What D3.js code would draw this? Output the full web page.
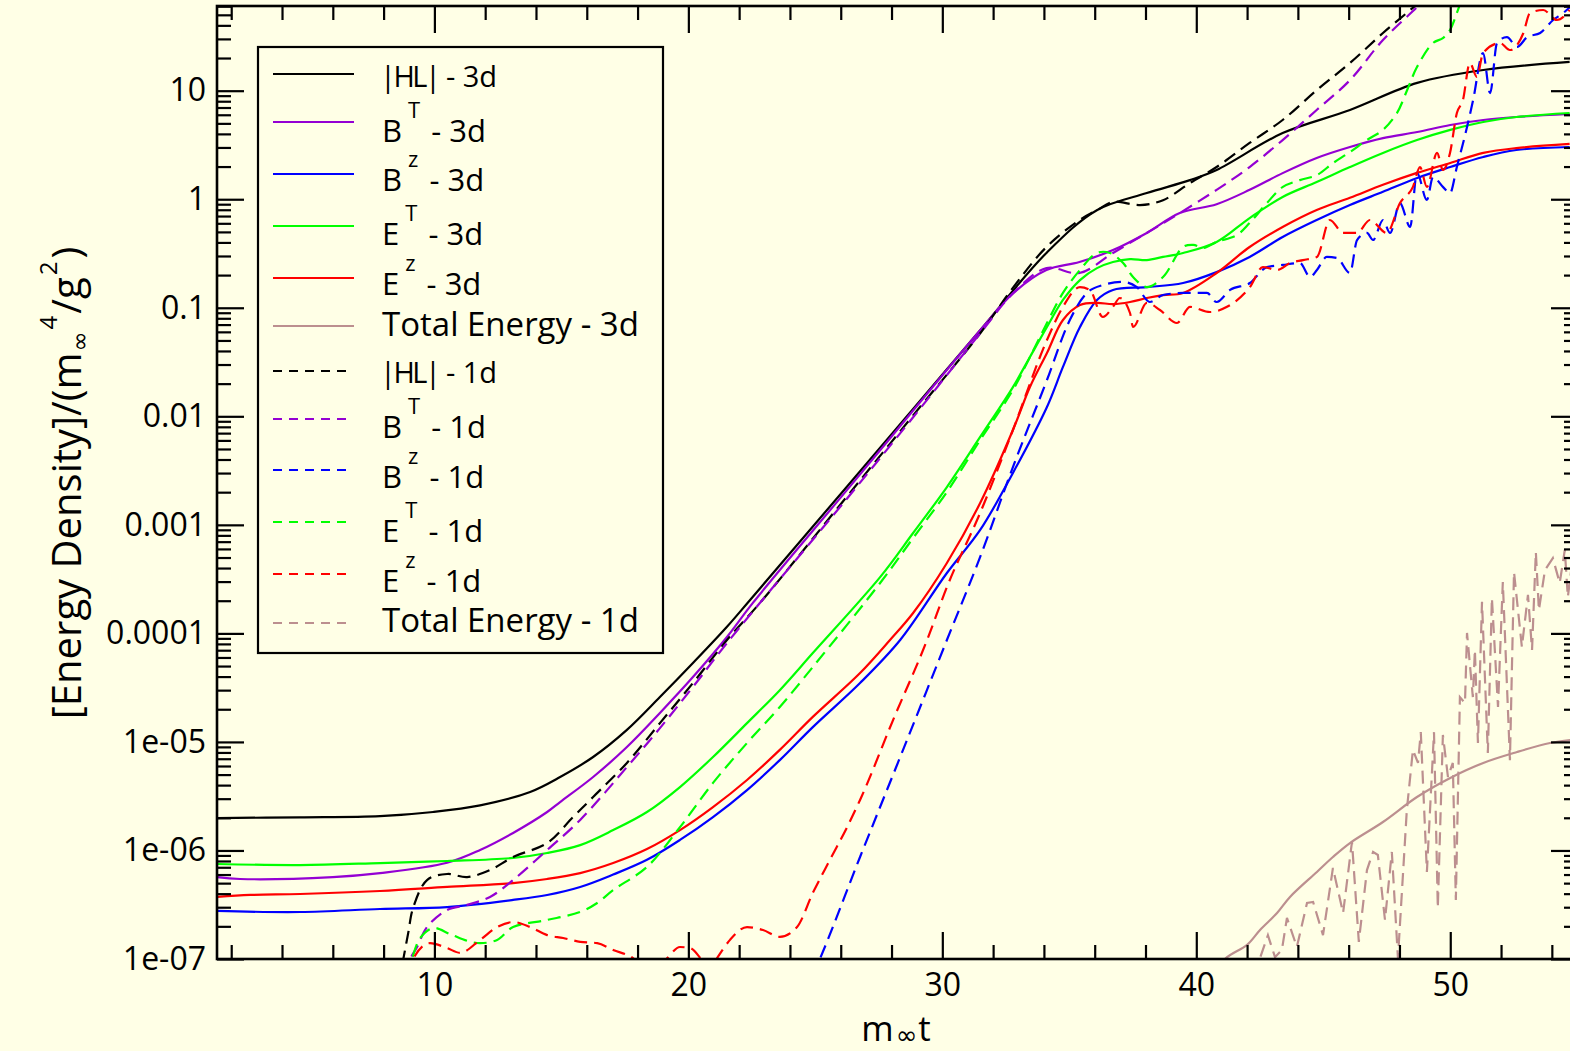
<!DOCTYPE html>
<html lang="en">
<head>
<meta charset="UTF-8">
<title>Energy density vs m t</title>
<script src="https://cdnjs.cloudflare.com/ajax/libs/d3/7.9.0/d3.min.js"></script>
<style>
  html, body { margin: 0; padding: 0; background: #ffffe6; }
  svg { display: block; font-family: "Open Sans", sans-serif; }
</style>
</head>
<body>
<svg id="chart" width="1570" height="1051"></svg>
<script>
// values: [m t, energy density]
const hl3d = [[1.45,1.99e-6],[4.7,2.02e-6],[7.86,2.07e-6],[9.95,2.26e-6],[11.8,2.6e-6],[13.77,3.46e-6],[14.95,4.75e-6],[16.25,7.26e-6],[17.58,1.29e-5],[18.88,2.59e-5],[20.18,5.33e-5],[21.52,1.15e-4],[22.43,2.03e-4],[26.25,2.26e-3],[28.85,1.17e-2],[31.5,6.24e-2],[34.1,0.32],[36.1,0.796],[38.05,1.14],[39.75,1.5],[40.8,1.86],[43.4,4.07],[46.05,6.64],[48.7,11.8],[51.3,15.5],[54.7,18.4]];
const bT3d = [[1.45,5.69e-7],[2.35,5.46e-7],[6.0,5.69e-7],[7.86,6.19e-7],[10.5,7.7e-7],[11.8,1.01e-6],[13.1,1.45e-6],[14.44,2.26e-6],[14.95,2.79e-6],[16.25,4.75e-6],[17.58,8.98e-6],[18.88,1.85e-5],[20.18,3.96e-5],[21.52,9.26e-5],[22.54,1.91e-4],[26.25,2.1e-3],[28.85,1.13e-2],[31.5,6.24e-2],[32.8,0.137],[34.1,0.223],[35.4,0.264],[36.72,0.34],[38.05,0.489],[39.35,0.746],[40.8,0.9],[42.1,1.22],[43.4,1.74],[44.74,2.4],[46.05,3.03],[47.35,3.66],[48.7,4.16],[50.0,4.83],[51.3,5.37],[52.6,5.72],[54.7,6.1]];
const bz3d = [[1.45,2.77e-7],[4.71,2.71e-7],[7.86,2.89e-7],[10.5,3.01e-7],[13.1,3.5e-7],[14.44,3.89e-7],[15.74,4.61e-7],[17.04,6.0e-7],[18.37,8.2e-7],[19.67,1.25e-6],[20.97,2.03e-6],[22.31,3.6e-6],[23.6,6.8e-6],[24.9,1.37e-5],[26.76,3.49e-5],[28.34,8.69e-5],[30.18,3.6e-4],[31.49,8.97e-4],[32.78,3.01e-3],[34.12,1.22e-2],[34.75,2.85e-2],[35.42,6.65e-2],[36.09,0.118],[36.72,0.146],[38.05,0.155],[39.48,0.169],[40.8,0.213],[42.1,0.294],[43.4,0.449],[44.74,0.644],[46.05,0.885],[47.35,1.17],[48.7,1.57],[50.0,1.98],[51.3,2.45],[52.6,2.84],[54.7,3.03]];
const eT3d = [[1.45,7.5e-7],[4.71,7.34e-7],[7.86,7.66e-7],[10.5,8.0e-7],[13.1,8.53e-7],[14.44,9.48e-7],[15.74,1.12e-6],[17.04,1.54e-6],[18.37,2.26e-6],[19.67,3.84e-6],[20.97,7.26e-6],[22.31,1.49e-5],[23.6,3.0e-5],[24.9,6.59e-5],[27.55,3.3e-4],[28.85,8.41e-4],[30.18,2.23e-3],[31.49,6.45e-3],[32.78,1.86e-2],[33.45,3.52e-2],[34.12,6.65e-2],[34.75,0.118],[35.42,0.18],[36.09,0.232],[36.72,0.264],[37.39,0.281],[38.05,0.275],[38.69,0.294],[39.48,0.32],[40.8,0.404],[42.1,0.671],[43.4,1.05],[44.74,1.44],[46.05,1.98],[47.35,2.67],[48.69,3.51],[50.0,4.35],[51.3,5.15],[52.6,5.72],[54.7,6.23]];
const eZ3d = [[1.45,3.73e-7],[2.75,3.89e-7],[4.71,3.97e-7],[7.86,4.23e-7],[10.5,4.61e-7],[13.1,5.01e-7],[14.44,5.46e-7],[15.74,6.19e-7],[17.04,7.66e-7],[18.37,1.03e-6],[19.67,1.54e-6],[20.97,2.51e-6],[22.31,4.46e-6],[23.6,8.44e-6],[24.9,1.7e-5],[26.76,4.31e-5],[27.94,8.69e-5],[28.85,1.54e-4],[30.18,4.45e-4],[31.49,1.59e-3],[32.78,7.48e-3],[33.45,1.86e-2],[34.12,3.83e-2],[34.75,7.71e-2],[35.42,0.106],[36.09,0.111],[36.72,0.108],[37.39,0.113],[38.05,0.123],[38.69,0.131],[39.48,0.137],[40.8,0.209],[42.1,0.363],[43.4,0.555],[44.74,0.796],[46.05,1.03],[47.35,1.36],[48.69,1.75],[50.0,2.16],[51.3,2.67],[52.6,2.96],[54.7,3.23]];
const tot3d = [[40.5,6e-8],[41.13,1e-7],[42.0,1.35e-7],[42.51,1.85e-7],[43.18,2.65e-7],[43.69,3.73e-7],[44.75,6.34e-7],[45.38,8.7e-7],[46.05,1.17e-6],[47.35,1.83e-6],[48.69,3.11e-6],[50.0,4.66e-6],[51.3,6.4e-6],[52.63,8.07e-6],[53.93,9.77e-6],[54.72,1.04e-5]];

const hl1d = [[8.6,6e-8],[8.97,1.74e-7],[9.16,2.95e-7],[9.71,5.34e-7],[10.5,6.07e-7],[11.29,5.69e-7],[12.19,6.6e-7],[13.1,8.7e-7],[14.44,1.17e-6],[15.46,2.03e-6],[16.25,3.11e-6],[17.58,6.4e-6],[18.88,1.49e-5],[20.18,3.49e-5],[21.52,8.69e-5],[22.82,1.91e-4],[26.25,1.83e-3],[28.85,1.02e-2],[31.5,5.85e-2],[32.8,0.155],[34.1,0.363],[35.4,0.643],[36.1,0.796],[36.72,0.944],[37.78,0.884],[38.69,0.98],[39.75,1.41],[40.8,1.98],[42.1,3.3],[43.4,5.37],[44.74,10.1],[46.05,18.0],[47.35,34.0],[48.6,60.2],[49.5,95]];
const bT1d = [[8.9,7e-8],[9.05,1e-7],[9.32,1.29e-7],[9.71,1.97e-7],[10.5,2.83e-7],[11.29,3.15e-7],[12.19,3.73e-7],[13.1,5.34e-7],[14.44,1.01e-6],[15.74,1.91e-6],[17.58,5.87e-6],[18.88,1.34e-5],[20.18,3.21e-5],[21.52,8.15e-5],[26.25,1.75e-3],[28.85,9.8e-3],[31.5,5.85e-2],[32.8,0.137],[34.1,0.232],[35.4,0.209],[36.72,0.32],[38.05,0.489],[39.35,0.746],[40.8,1.22],[42.1,1.98],[43.4,3.51],[44.74,6.64],[46.05,12.5],[47.35,29.3],[48.7,59],[49.5,90]];
const bz1d = [[24.9,7e-8],[25.18,1e-7],[26.76,8.7e-7],[28.45,8.4e-6],[30.18,8.69e-5],[31.49,5.06e-4],[32.78,3.41e-3],[34.12,2.16e-2],[35.02,7.71e-2],[35.69,0.137],[36.32,0.162],[37.1,0.173],[37.66,0.155],[38.17,0.113],[38.69,0.131],[39.48,0.137],[40.42,0.137],[40.8,0.113],[41.33,0.146],[42.11,0.169],[42.78,0.237],[43.41,0.248],[44.08,0.258],[44.48,0.192],[44.75,0.223],[45.14,0.294],[45.54,0.288],[46.05,0.209],[46.33,0.421],[46.72,0.489],[46.96,0.421],[47.35,0.641],[47.63,0.489],[48.02,0.922],[48.42,0.555],[48.69,1.75],[49.08,0.985],[49.32,1.6],[49.71,1.3],[49.99,1.14],[50.26,1.98],[50.66,4.62],[50.9,8.2],[51.29,22.2],[51.57,9.5],[51.84,27.5],[52.23,31.2],[52.63,25.3],[53.03,31.2],[53.54,34.0],[54.05,44.8],[54.45,52],[54.72,59]];
const eT1d = [[8.95,7e-8],[9.12,1e-7],[9.44,1.56e-7],[9.95,1.93e-7],[10.61,1.7e-7],[11.29,1.47e-7],[11.8,1.4e-7],[12.47,1.5e-7],[13.1,1.97e-7],[14.44,2.29e-7],[15.74,2.71e-7],[16.41,3.28e-7],[17.04,4.32e-7],[18.37,7.05e-7],[19.67,1.64e-6],[20.97,4.19e-6],[22.31,9.77e-6],[23.6,2.1e-5],[24.9,4.9e-5],[27.55,2.91e-4],[28.85,7.57e-4],[30.18,2.01e-3],[31.49,6.05e-3],[32.78,1.75e-2],[33.45,3.52e-2],[34.12,7.24e-2],[34.75,0.137],[35.42,0.223],[36.09,0.32],[36.6,0.32],[37.12,0.258],[37.51,0.192],[38.05,0.155],[38.69,0.192],[39.48,0.363],[39.88,0.38],[40.27,0.356],[40.8,0.404],[41.6,0.468],[42.1,0.604],[42.78,0.922],[43.41,1.3],[44.08,1.5],[44.75,1.67],[45.38,2.15],[46.05,2.72],[46.72,3.51],[47.35,4.35],[47.9,6.22],[48.3,10.1],[48.69,16.5],[49.32,27.5],[49.71,30.5],[49.99,36.2],[50.26,52],[50.5,75]];
const eZ1d = [[9.0,7e-8],[9.16,1e-7],[9.83,1.4e-7],[10.5,1.26e-7],[11.01,1.14e-7],[11.8,1.5e-7],[12.47,1.97e-7],[13.1,2.19e-7],[13.77,1.97e-7],[14.44,1.66e-7],[15.07,1.56e-7],[15.74,1.44e-7],[16.41,1.4e-7],[17.04,1.21e-7],[17.82,1.02e-7],[18.5,7.1e-8],[19.17,1.02e-7],[19.67,1.29e-7],[20.07,1.26e-7],[20.47,1.02e-7],[20.8,7.9e-8],[21.13,1.02e-7],[21.64,1.5e-7],[22.31,1.97e-7],[22.94,1.85e-7],[23.6,1.6e-7],[24.28,1.97e-7],[24.9,4.06e-7],[25.57,8.16e-7],[26.25,1.64e-6],[26.76,2.92e-6],[28.06,1.59e-5],[29.4,8.69e-5],[30.18,2.67e-4],[31.49,1.29e-3],[32.78,7.48e-3],[34.12,5.04e-2],[34.75,0.102],[35.42,0.155],[35.81,0.146],[36.32,8.22e-2],[36.72,0.102],[36.99,0.123],[37.39,8.95e-2],[37.51,6.65e-2],[38.05,0.111],[38.57,9.53e-2],[39.24,7.24e-2],[39.75,0.102],[40.54,9.14e-2],[41.21,0.102],[42.11,0.155],[42.62,0.237],[43.18,0.223],[43.69,0.258],[44.2,0.275],[44.75,0.294],[45.26,0.644],[45.78,0.489],[46.33,0.489],[46.84,0.644],[47.5,0.489],[48.02,0.922],[48.53,1.3],[48.81,1.98],[49.08,1.3],[49.48,2.67],[49.71,1.86],[49.99,2.67],[50.26,6.22],[50.5,8.2],[50.77,18],[51.05,13.4],[51.29,22.2],[51.96,27.5],[52.35,23.7],[52.88,34],[53.14,52],[53.66,55.4],[54.2,44.8],[54.7,55.4]];
const tot1d = [[42.3,7e-8],[42.51,1.02e-7],[42.82,1.66e-7],[43.1,1.04e-7],[43.37,1.21e-7],[43.57,2.39e-7],[43.96,1.29e-7],[44.36,3.28e-7],[44.6,3.35e-7],[44.99,1.66e-7],[45.38,6.89e-7],[45.78,2.65e-7],[46.13,1.2e-6],[46.4,1.44e-7],[46.72,6.6e-7],[46.96,9.69e-7],[47.15,9.08e-7],[47.43,2.29e-7],[47.7,9.69e-7],[47.94,1.02e-7],[48.29,2.36e-6],[48.53,8.44e-6],[48.73,6.4e-6],[48.84,1.23e-5],[49.08,6.34e-7],[49.36,1.23e-5],[49.51,2.95e-7],[49.71,1.16e-5],[49.91,4.75e-6],[50.1,6.4e-6],[50.22,3.5e-7],[50.38,2.59e-5],[50.58,2.28e-5],[50.66,1.01e-4],[50.89,2.59e-5],[50.97,7.03e-5],[51.09,9.77e-6],[51.25,1.95e-4],[51.48,7.9e-6],[51.64,2.12e-4],[51.88,2.1e-5],[52.07,2.97e-4],[52.35,6.8e-6],[52.51,3.67e-4],[52.82,7.5e-5],[53.06,2.26e-4],[53.22,7.03e-5],[53.37,5.62e-4],[53.49,1.64e-4],[53.73,3.84e-4],[54.04,4.94e-4],[54.31,2.91e-4],[54.51,5.86e-4],[54.63,2.16e-4],[54.8,4.5e-4]];

// axis ticks
const xMajor = [10, 20, 30, 40, 50];
const xMinor = [2, 4, 6, 8, 12, 14, 16, 18, 22, 24, 26, 28, 32, 34, 36, 38, 42, 44, 46, 48, 52, 54];
const yMajor = [1e-7, 1e-6, 1e-5, 1e-4, 1e-3, 1e-2, 1e-1, 1, 10];
const yTickLabels = ["1e-07", "1e-06", "1e-05", "0.0001", "0.001", "0.01", "0.1", "1", "10"];

const smooth = d3.curveCatmullRom.alpha(0.5);
const series = [
  { data: hl3d, color: "#000000", dashed: false, main: "|HL|", sup: null, tail: " - 3d", size: 29, curve: smooth },
  { data: bT3d, color: "#9400d3", dashed: false, main: "B", sup: "T", tail: " - 3d", size: 31, curve: smooth },
  { data: bz3d, color: "#0000ff", dashed: false, main: "B", sup: "z", tail: " - 3d", size: 31, curve: smooth },
  { data: eT3d, color: "#00ff00", dashed: false, main: "E", sup: "T", tail: " - 3d", size: 31, curve: smooth },
  { data: eZ3d, color: "#ff0000", dashed: false, main: "E", sup: "z", tail: " - 3d", size: 31, curve: smooth },
  { data: tot3d, color: "#bc8f8f", dashed: false, main: "Total Energy", sup: null, tail: " - 3d", size: 33, curve: smooth },
  { data: hl1d, color: "#000000", dashed: true, main: "|HL|", sup: null, tail: " - 1d", size: 29, curve: smooth },
  { data: bT1d, color: "#9400d3", dashed: true, main: "B", sup: "T", tail: " - 1d", size: 31, curve: smooth },
  { data: bz1d, color: "#0000ff", dashed: true, main: "B", sup: "z", tail: " - 1d", size: 31, curve: d3.curveMonotoneX },
  { data: eT1d, color: "#00ff00", dashed: true, main: "E", sup: "T", tail: " - 1d", size: 31, curve: smooth },
  { data: eZ1d, color: "#ff0000", dashed: true, main: "E", sup: "z", tail: " - 1d", size: 31, curve: d3.curveMonotoneX },
  { data: tot1d, color: "#bc8f8f", dashed: true, main: "Total Energy", sup: null, tail: " - 1d", size: 33, curve: d3.curveLinear }
];

const plotLeft = 217, plotRight = 1578, plotTop = 6, plotBottom = 959;

const svg = d3.select("#chart");
svg.append("rect").attr("width", 1570).attr("height", 1051).attr("fill", "#ffffe6");

const x = d3.scaleLinear().domain([1.44, 55.03]).range([plotLeft, plotRight]);
const y = d3.scaleLog().domain([1e-7, 60.3]).range([plotBottom, plotTop]);

svg.append("defs").append("clipPath").attr("id", "plotClip")
  .append("rect").attr("x", plotLeft).attr("y", plotTop)
  .attr("width", plotRight - plotLeft).attr("height", plotBottom - plotTop);

// curves
const plot = svg.append("g").attr("clip-path", "url(#plotClip)");
series.forEach(s => {
  const line = d3.line()
    .x(d => x(d[0]))
    .y(d => y(d[1]))
    .curve(s.curve);
  plot.append("path")
    .datum(s.data)
    .attr("d", line)
    .attr("fill", "none")
    .attr("stroke", s.color)
    .attr("stroke-width", 2.2)
    .attr("stroke-dasharray", s.dashed ? "13,7" : null);
});

// axes (ticks point inward on all four sides)
function styleAxis(g) {
  g.select(".domain").remove();
  g.selectAll(".tick line").attr("stroke", "#000").attr("stroke-width", 2.2);
  g.selectAll(".tick text").attr("fill", "#000").attr("font-size", 32).attr("font-family", "Open Sans, sans-serif");
}

const yMinor = [];
yMajor.forEach(v => { for (let k = 2; k <= 9; k++) if (v * k <= 60) yMinor.push(v * k); });

svg.append("g").attr("transform", `translate(${plotLeft},0)`)
  .call(d3.axisLeft(y).tickValues(yMajor).tickSize(-27).tickPadding(11).tickFormat((d, i) => yTickLabels[i]))
  .call(styleAxis);
svg.append("g").attr("transform", `translate(${plotLeft},0)`)
  .call(d3.axisLeft(y).tickValues(yMinor).tickSize(-14).tickFormat(""))
  .call(styleAxis);
svg.append("g").attr("transform", `translate(${plotRight},0)`)
  .call(d3.axisRight(y).tickValues(yMajor).tickSize(-27).tickFormat(""))
  .call(styleAxis);
svg.append("g").attr("transform", `translate(${plotRight},0)`)
  .call(d3.axisRight(y).tickValues(yMinor).tickSize(-14).tickFormat(""))
  .call(styleAxis);

svg.append("g").attr("transform", `translate(0,${plotBottom})`)
  .call(d3.axisBottom(x).tickValues(xMajor).tickSize(-27).tickPadding(14).tickFormat(d3.format("d")))
  .call(styleAxis);
svg.append("g").attr("transform", `translate(0,${plotBottom})`)
  .call(d3.axisBottom(x).tickValues(xMinor).tickSize(-14).tickFormat(""))
  .call(styleAxis);
svg.append("g").attr("transform", `translate(0,${plotTop})`)
  .call(d3.axisTop(x).tickValues(xMajor).tickSize(-27).tickFormat(""))
  .call(styleAxis);
svg.append("g").attr("transform", `translate(0,${plotTop})`)
  .call(d3.axisTop(x).tickValues(xMinor).tickSize(-14).tickFormat(""))
  .call(styleAxis);

// frame
svg.append("rect")
  .attr("x", plotLeft).attr("y", plotTop)
  .attr("width", plotRight - plotLeft).attr("height", plotBottom - plotTop)
  .attr("fill", "none").attr("stroke", "#000").attr("stroke-width", 2.6);

// axis titles
const xTitle = svg.append("text")
  .attr("x", 896).attr("y", 1041)
  .attr("text-anchor", "middle").attr("font-size", 35);
xTitle.append("tspan").text("m");
xTitle.append("tspan").attr("font-family", "DejaVu Sans").attr("font-size", 26)
  .attr("dx", 2).attr("dy", 3).text("\u221e");
xTitle.append("tspan").attr("dx", 1).attr("dy", -3).text("t");

const yTitle = svg.append("text")
  .attr("transform", "translate(81,483) rotate(-90)")
  .attr("text-anchor", "middle").attr("font-size", 40);
yTitle.append("tspan").text("[Energy Density]/(m");
yTitle.append("tspan").attr("font-family", "DejaVu Sans").attr("font-size", 24)
  .attr("dx", 1).attr("dy", 7).text("\u221e");
yTitle.append("tspan").attr("font-size", 24).attr("dx", 2).attr("dy", -31).text("4");
yTitle.append("tspan").attr("dx", 2).attr("dy", 24).text("/g");
yTitle.append("tspan").attr("font-size", 24).attr("dx", 2).attr("dy", -24).text("2");
yTitle.append("tspan").attr("dx", 3).attr("dy", 24).text(")");

// legend
const legendLineY = [74, 122, 174, 226, 278, 326, 371, 419, 470, 522, 574, 623];
const legendTextY = [87, 142, 191, 245, 295, 336, 383, 438, 488, 542, 592, 632];

const legend = svg.append("g");
legend.append("rect")
  .attr("x", 258).attr("y", 47).attr("width", 405).attr("height", 606)
  .attr("fill", "#ffffe6").attr("stroke", "#000").attr("stroke-width", 2.2);

series.forEach((s, i) => {
  legend.append("line")
    .attr("x1", 273).attr("x2", s.dashed ? 349 : 354)
    .attr("y1", legendLineY[i]).attr("y2", legendLineY[i])
    .attr("stroke", s.color).attr("stroke-width", 1.8)
    .attr("stroke-dasharray", s.dashed ? "9,7" : null);
  const t = legend.append("text")
    .attr("x", 380).attr("y", legendTextY[i])
    .attr("font-size", s.size).attr("fill", "#000");
  if (s.main === "|HL|") {
    // bars sit tight against the letters
    t.append("tspan").attr("letter-spacing", -2.5).text(s.main);
  } else {
    t.append("tspan").attr("dx", 2).text(s.main);
  }
  if (s.sup) {
    t.append("tspan").attr("font-size", 22).attr("dx", 6).attr("dy", -24).text(s.sup);
    t.append("tspan").attr("dx", 3).attr("dy", 24).text(s.tail);
  } else {
    t.append("tspan").text(s.tail);
  }
});
</script>
</body>
</html>
